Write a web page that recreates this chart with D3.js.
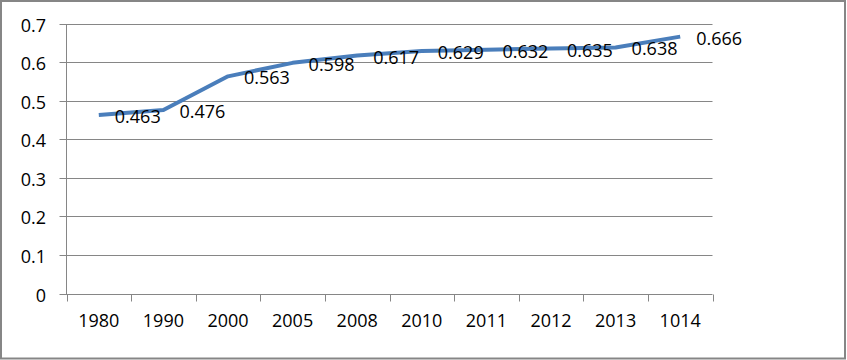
<!DOCTYPE html>
<html>
<head>
<meta charset="utf-8">
<script src="https://cdn.jsdelivr.net/npm/d3@7"></script>
<style>
  html, body { margin: 0; padding: 0; background: #fff; }
  svg { display: block; }
  text { font-family: "Open Sans", "Liberation Sans", sans-serif; fill: #000; }
</style>
</head>
<body>
<svg id="chart" width="847" height="360"></svg>
<script>
const categories = ["1980", "1990", "2000", "2005", "2008", "2010", "2011", "2012", "2013", "1014"];
const values = [0.463, 0.476, 0.563, 0.598, 0.617, 0.629, 0.632, 0.635, 0.638, 0.666];
const yTicks = [0, 0.1, 0.2, 0.3, 0.4, 0.5, 0.6, 0.7];
const yTickLabels = ["0", "0.1", "0.2", "0.3", "0.4", "0.5", "0.6", "0.7"];

(function () {
const svg = d3.select("#chart");
const pLeft = 66.5, pRight = 712.5, pTop = 23.5, pBottom = 293.5;
const gridColor = "#868686";
const lineColor = "#4A7EBB";

// outer border
svg.append("rect")
  .attr("x", 1).attr("y", 1)
  .attr("width", 844).attr("height", 357.5)
  .attr("fill", "#fff")
  .attr("stroke", gridColor)
  .attr("stroke-width", 2);

const x = d3.scaleBand().domain(categories).range([pLeft, pRight]).paddingInner(0).paddingOuter(0);
const y = d3.scaleLinear().domain([0, 0.7]).range([pBottom, pTop]);

// gridlines (with left tick extension)
svg.append("g").selectAll("line")
  .data(yTicks)
  .join("line")
  .attr("x1", pLeft - 7).attr("x2", pRight)
  .attr("y1", d => Math.round(y(d)) + 0.5)
  .attr("y2", d => Math.round(y(d)) + 0.5)
  .attr("stroke", gridColor)
  .attr("stroke-width", 1);

// y axis line
svg.append("line")
  .attr("x1", pLeft).attr("x2", pLeft)
  .attr("y1", Math.round(y(0.7)) + 0.5).attr("y2", Math.round(y(0)) + 0.5)
  .attr("stroke", gridColor).attr("stroke-width", 1);

// y labels
svg.append("g").selectAll("text")
  .data(yTicks)
  .join("text")
  .attr("x", 46)
  .attr("y", d => y(d) + 1)
  .attr("text-anchor", "end")
  .attr("dominant-baseline", "central")
  .attr("font-size", 18)
  .text((d, i) => yTickLabels[i]);

// x ticks at band boundaries
const boundaries = categories.map(c => x(c)).concat([x(categories[categories.length - 1]) + x.bandwidth()]);
svg.append("g").selectAll("line")
  .data(boundaries)
  .join("line")
  .attr("x1", d => Math.round(d) + 0.5).attr("x2", d => Math.round(d) + 0.5)
  .attr("y1", Math.round(y(0)) + 0.5).attr("y2", Math.round(y(0)) + 7.5)
  .attr("stroke", gridColor).attr("stroke-width", 1);

// x labels
svg.append("g").selectAll("text")
  .data(categories)
  .join("text")
  .attr("x", d => x(d) + x.bandwidth() / 2)
  .attr("y", 327)
  .attr("text-anchor", "middle")
  .attr("font-size", 18)
  .text(d => d);

// line
const pts = categories.map((c, i) => ({ c, v: values[i] }));
const line = d3.line()
  .x(d => x(d.c) + x.bandwidth() / 2)
  .y(d => y(d.v));
svg.append("path")
  .datum(pts)
  .attr("d", line)
  .attr("fill", "none")
  .attr("stroke", lineColor)
  .attr("stroke-width", 4)
  .attr("stroke-linejoin", "round")
  .attr("stroke-linecap", "butt");

// data labels (right of point)
svg.append("g").selectAll("text")
  .data(pts)
  .join("text")
  .attr("x", d => x(d.c) + x.bandwidth() / 2 + 16)
  .attr("y", d => y(d.v) + 1)
  .attr("dominant-baseline", "central")
  .attr("font-size", 18)
  .text(d => d.v.toFixed(3));
})();
</script>
</body>
</html>
